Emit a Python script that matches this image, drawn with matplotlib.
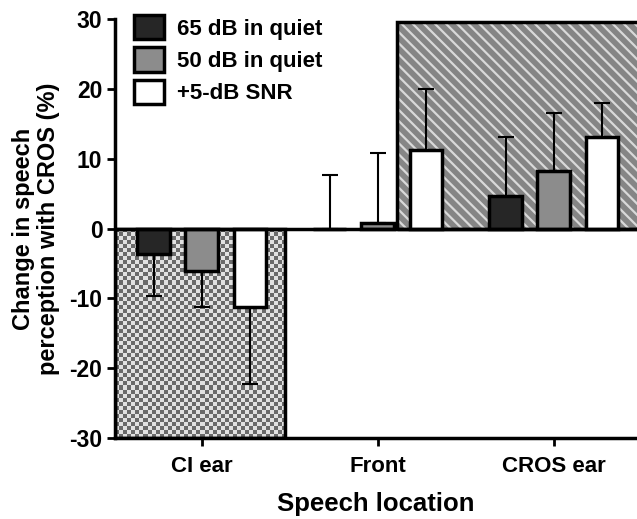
import numpy as np
import matplotlib as mpl
mpl.use('Agg')
import matplotlib.pyplot as plt
from matplotlib.patches import Rectangle, Patch

######################
## data
######################

locations = ['CI ear', 'Front', 'CROS ear']
series = ['65 dB in quiet', '50 dB in quiet', '+5-dB SNR']

quiet65 = [-3.6, 0.0, 4.7]
quiet65_sd = [6.0, 7.7, 8.4]
quiet50 = [-6.1, 0.8, 8.3]
quiet50_sd = [5.2, 10.0, 8.3]
snr5 = [-11.3, 11.3, 13.1]
snr5_sd = [11.0, 8.7, 4.9]

yticks = [-30, -20, -10, 0, 10, 20, 30]

######################
## setup matplotlib
######################

plt.rcParams['font.family'] = ['Liberation Sans', 'DejaVu Sans']
plt.rcParams['font.weight'] = 'bold'
plt.rcParams['axes.labelweight'] = 'bold'
plt.rcParams['axes.unicode_minus'] = False
plt.rcParams['hatch.linewidth'] = 1.6

fig = plt.figure(figsize=(6.37, 5.19), dpi=100)
ax = fig.add_axes([115/637, 81/519, 1 - 115/637, 419/519])

xlim = (-0.494, 2.472)
ax.set_xlim(*xlim)
ax.set_ylim(-30, 30)

######################
## shaded regions
######################

## CI ear side: checkerboard
ci_x0, ci_x1 = xlim[0], 0.472
nx, ny = 42, 52
checker = (np.add.outer(np.arange(ny), np.arange(nx)) % 2).astype(float)
ax.imshow(checker, cmap='gray', vmin=-0.9, vmax=1.25, extent=(ci_x0, ci_x1, -30, 0),
          aspect='auto', interpolation='nearest', zorder=1)
ax.add_patch(Rectangle((ci_x0, -30), ci_x1 - ci_x0, 30, fill=False, edgecolor='black', lw=2.5, zorder=1.5))

## CROS side: diagonal stripes
cr_x0, cr_top = 1.108, 29.6
ax.add_patch(Rectangle((cr_x0, 0), xlim[1] + 0.1 - cr_x0, cr_top, facecolor='#858585',
                       edgecolor='#d9d9d9', hatch='\\\\\\', lw=0, zorder=1))
ax.add_patch(Rectangle((cr_x0, 0), xlim[1] + 0.1 - cr_x0, cr_top, fill=False,
                       edgecolor='black', lw=2.5, zorder=1.5, clip_on=False))
ax.set_xlim(*xlim)

######################
## bars
######################

x = np.arange(len(locations))
width = 0.187
offset = 0.273
colors = ['#262626', '#8c8c8c', 'white']
values = [quiet65, quiet50, snr5]
errors = [quiet65_sd, quiet50_sd, snr5_sd]

for i, (vals, errs, col) in enumerate(zip(values, errors, colors)):
    xs = x + (i - 1) * offset
    vals = np.array(vals)
    errs = np.array(errs)
    lower = np.where(vals < 0, errs, 0)
    upper = np.where(vals >= 0, errs, 0)
    ax.errorbar(xs, vals, yerr=[lower, upper], fmt='none', ecolor='black',
                elinewidth=1.5, capsize=6, capthick=1.5, zorder=2)
    ax.bar(xs, vals, width, color=col, edgecolor='black', linewidth=2.5, zorder=3,
           label=series[i])

ax.axhline(0, color='black', lw=2.5, zorder=4)

######################
## axes
######################

for s in ['top', 'right']:
    ax.spines[s].set_visible(False)
for s in ['left', 'bottom']:
    ax.spines[s].set_linewidth(2.5)
    ax.spines[s].set_zorder(5)

ax.set_yticks(yticks)
ax.set_xticks(x)
ax.set_xticklabels(locations)
ax.tick_params(axis='both', direction='out', length=6, width=2, labelsize=16, pad=3)
ax.tick_params(axis='y', labelsize=16.5)
ax.tick_params(axis='x', pad=7)
for lab in ax.get_xticklabels() + ax.get_yticklabels():
    lab.set_fontweight('bold')

ax.set_xlabel('Speech location', fontsize=18.5, labelpad=11)
ax.set_ylabel('Change in speech\nperception with CROS (%)', fontsize=17, linespacing=1.1, labelpad=7)

handles = [Patch(facecolor=c, edgecolor='black', lw=2.5) for c in colors]
fig.legend(handles, series, loc='upper left', bbox_to_anchor=(134/637, 1 - 15/519),
           frameon=False, borderpad=0, borderaxespad=0,
           handlelength=1.35, handleheight=1.3, handletextpad=0.6, labelspacing=0.35,
           prop={'weight': 'bold', 'size': 16})

plt.savefig('out.png', dpi=100)
